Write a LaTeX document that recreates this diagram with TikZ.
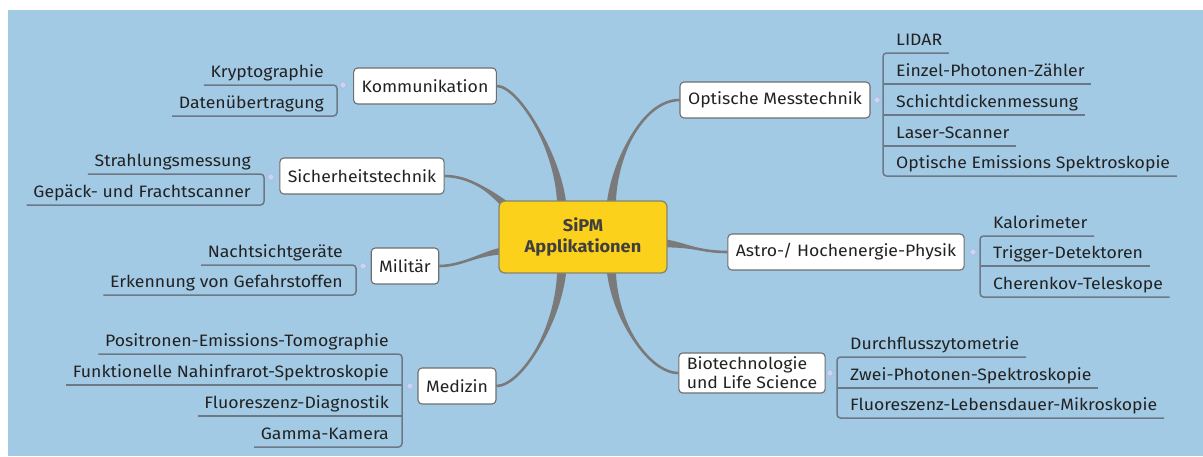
\documentclass[tikz,border=0pt]{standalone}
\usepackage{fontspec}
\setmainfont{Fira Sans}[FakeStretch=1.07]
\usetikzlibrary{calc}
\definecolor{bgblue}{HTML}{A3CAE5}
\definecolor{conngray}{HTML}{7A7A7A}
\definecolor{ulinecol}{HTML}{6C7886}
\definecolor{topicborder}{HTML}{6E6E6E}
\definecolor{txtcol}{HTML}{222222}
\definecolor{ctrfill}{HTML}{FCD11C}
\definecolor{ctrborder}{HTML}{85846F}
\definecolor{ctrtext}{HTML}{3F3F3F}
\definecolor{dotfill}{HTML}{C9D4F0}
\definecolor{dotdraw}{HTML}{A9BAE2}
\pgfdeclarelayer{bg}
\pgfsetlayers{bg,main}
\newcommand\leaffnt{\fontsize{16.5}{19}\selectfont}
\newcommand\tconn[5]{%
  \fill[conngray] ($(#1)+(#3)$) .. controls ($(#1)+(#4)+0.5*(#3)$) and ($(#2)+(#5)$) .. (#2)
     .. controls ($(#2)+(#5)$) and ($(#1)+(#4)-0.5*(#3)$) .. ($(#1)-(#3)$) -- cycle;
  \draw[conngray, line width=2.6pt] (#1) .. controls ($(#1)+(#4)$) and ($(#2)+(#5)$) .. (#2);}
\tikzset{
  topic/.style={draw=topicborder, line width=1.1pt, fill=white, rounded corners=4pt,
    inner xsep=8pt, inner ysep=4pt, minimum height=36pt, font=\leaffnt, text=txtcol},
  ctrnode/.style={draw=ctrborder, line width=1.3pt, fill=ctrfill, rounded corners=6pt,
    minimum width=168pt, minimum height=72pt, align=center, text=ctrtext,
    font=\fontsize{17}{21}\selectfont\bfseries},
  leafR/.style={anchor=south west, inner xsep=6.5pt, inner ysep=3.5pt, text height=12pt,
    text depth=3.5pt, font=\leaffnt, text=txtcol, execute at begin node={\hspace*{6.5pt}}},
  leafL/.style={anchor=south east, inner xsep=6.5pt, inner ysep=3.5pt, text height=12pt,
    text depth=3.5pt, font=\leaffnt, text=txtcol, execute at end node={\hspace*{6.5pt}}},
  uline/.style={draw=ulinecol, line width=1.5pt, rounded corners=3.5pt},
  dotnode/.style={circle, minimum size=6.5pt, inner sep=0pt, fill=dotfill, draw=dotdraw, line width=0.7pt}
}
\begin{document}
\begin{tikzpicture}[x=1pt,y=-1pt]
\useasboundingbox (0,0) rectangle (1203,456);
\begin{pgfonlayer}{bg}
\fill[white] (0,0) rectangle (1203,456);
\fill[bgblue] (8,10) rectangle (1203,456);
\end{pgfonlayer}

% centre
\node[ctrnode] (ctr) at (583,237) {SiPM\\Applikationen};

% topics
\node[topic] (kom) at (425,86) {Kommunikation};
\node[topic] (sic) at (362,176) {Sicherheitstechnik};
\node[topic] (mil) at (405,266) {Militär};
\node[topic] (med) at (457,386) {Medizin};
\node[topic] (opt) at (775,100) {Optische Messtechnik};
\node[topic] (ast) at (846,252) {Astro-/ Hochenergie-Physik};
\node[topic, align=left] (bio) at (752,373) {Biotechnologie\\und Life Science};

% connector start points (inside the centre box)
\coordinate (sK) at (562,212);
\coordinate (sO) at (611,212);
\coordinate (sS) at (515,214);
\coordinate (sM) at (514,250);
\coordinate (sD) at (562,262);
\coordinate (sB) at (611,262);
\coordinate (sA) at (655,243);

\begin{pgfonlayer}{bg}
\tconn{sK}{kom.east}{5,0}{0,-55}{22,0}
\tconn{sO}{opt.west}{5,0}{0,-48}{-38,0}
\tconn{sS}{sic.east}{3.8,-3.8}{-15,-15}{30,0}
\tconn{sM}{mil.east}{0,4.5}{-30,0}{25,0}
\tconn{sD}{med.east}{5,0}{0,60}{25,0}
\tconn{sB}{bio.west}{5,0}{0,55}{-30,0}
\tconn{sA}{ast.west}{0,5}{30,0}{-30,0}
\end{pgfonlayer}

% collapse dots
\node[dotnode] (kd) at (343,85) {};
\node[dotnode] (sd) at (271,177) {};
\node[dotnode] (md) at (363,266) {};
\node[dotnode] (dd) at (410,386) {};
\node[dotnode] (od) at (877,100) {};
\node[dotnode] (ad) at (973,252) {};
\node[dotnode] (bd) at (830,373) {};

% Optische Messtechnik leaves
\node[leafR] (o1) at (883,53) {LIDAR};
\node[leafR] (o2) at (883,84) {Einzel-Photonen-Zähler};
\node[leafR] (o3) at (883,115) {Schichtdickenmessung};
\node[leafR] (o4) at (883,146) {Laser-Scanner};
\node[leafR] (o5) at (883,176) {Optische Emissions Spektroskopie};
\draw[uline] (o1.south east) -- (o1.south west) -- (o5.south west) -- (o5.south east);
\foreach \n in {o2,o3,o4} \draw[uline] (\n.south west) -- (\n.south east);

% Astro leaves
\node[leafR] (a1) at (980,236) {Kalorimeter};
\node[leafR] (a2) at (980,266) {Trigger-Detektoren};
\node[leafR] (a3) at (980,297) {Cherenkov-Teleskope};
\draw[uline] (a1.south east) -- (a1.south west) -- (a3.south west) -- (a3.south east);
\draw[uline] (a2.south west) -- (a2.south east);

% Biotech leaves
\node[leafR] (b1) at (837,357) {Durchflusszytometrie};
\node[leafR] (b2) at (837,388) {Zwei-Photonen-Spektroskopie};
\node[leafR] (b3) at (837,418) {Fluoreszenz-Lebensdauer-Mikroskopie};
\draw[uline] (b1.south east) -- (b1.south west) -- (b3.south west) -- (b3.south east);
\draw[uline] (b2.south west) -- (b2.south east);

% Kommunikation leaves
\node[leafL] (k1) at (337,85) {Kryptographie};
\node[leafL] (k2) at (337,116) {Datenübertragung};
\draw[uline] (k1.south west) -- (k1.south east) -- (k2.south east) -- (k2.south west);

% Sicherheitstechnik leaves
\node[leafL] (s1) at (264,174) {Strahlungsmessung};
\node[leafL] (s2) at (264,205) {Gepäck- und Frachtscanner};
\draw[uline] (s1.south west) -- (s1.south east) -- (s2.south east) -- (s2.south west);

% Militaer leaves
\node[leafL] (m1) at (356,265) {Nachtsichtgeräte};
\node[leafL] (m2) at (356,295) {Erkennung von Gefahrstoffen};
\draw[uline] (m1.south west) -- (m1.south east) -- (m2.south east) -- (m2.south west);

% Medizin leaves
\node[leafL] (d1) at (402,354) {Positronen-Emissions-Tomographie};
\node[leafL] (d2) at (402,385) {Funktionelle Nahinfrarot-Spektroskopie};
\node[leafL] (d3) at (402,416) {Fluoreszenz-Diagnostik};
\node[leafL] (d4) at (402,447) {Gamma-Kamera};
\draw[uline] (d1.south west) -- (d1.south east) -- (d4.south east) -- (d4.south west);
\foreach \n in {d2,d3} \draw[uline] (\n.south west) -- (\n.south east);
\end{tikzpicture}
\end{document}
